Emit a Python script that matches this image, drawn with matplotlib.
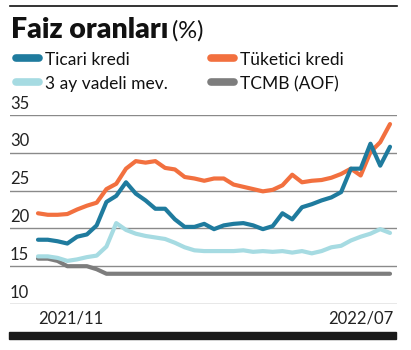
import matplotlib
matplotlib.use("Agg")
import matplotlib.pyplot as plt
from matplotlib.lines import Line2D
import numpy as np

plt.rcParams['font.family'] = ['Lato', 'DejaVu Sans']

# Weekly rates (%), Oct 2021 - Jul 2022
ticari = [18.5, 18.5, 18.3, 18.0, 18.9, 19.2, 20.4, 23.5, 24.3, 26.1, 24.6, 23.7,
          22.6, 22.6, 21.2, 20.2, 20.2, 20.6, 19.9, 20.4, 20.6, 20.7, 20.4, 19.9,
          20.3, 22.0, 21.2, 22.8, 23.2, 23.7, 24.1, 24.8, 27.9, 27.9, 31.2, 28.3, 30.8]
tuketici = [22.0, 21.8, 21.8, 21.9, 22.5, 23.0, 23.4, 25.2, 25.9, 27.9, 28.9, 28.7,
            28.9, 28.0, 27.8, 26.8, 26.6, 26.3, 26.6, 26.6, 25.8, 25.5, 25.2, 24.9,
            25.1, 25.7, 27.1, 26.1, 26.3, 26.4, 26.7, 27.2, 27.9, 27.0, 30.1, 31.4, 33.8]
mevduat = [16.3, 16.3, 16.1, 15.7, 15.9, 16.2, 16.4, 17.6, 20.7, 19.8, 19.3, 19.0,
           18.8, 18.6, 18.1, 17.5, 17.1, 17.0, 17.0, 17.0, 17.0, 17.1, 16.9, 17.0,
           16.9, 17.0, 16.8, 17.0, 16.7, 17.0, 17.5, 17.7, 18.4, 18.9, 19.3, 19.9, 19.4]
tcmb = [16.0, 16.0, 15.7, 15.0, 15.0, 15.0, 14.6, 14.0, 14.0, 14.0, 14.0, 14.0,
        14.0, 14.0, 14.0, 14.0, 14.0, 14.0, 14.0, 14.0, 14.0, 14.0, 14.0, 14.0,
        14.0, 14.0, 14.0, 14.0, 14.0, 14.0, 14.0, 14.0, 14.0, 14.0, 14.0, 14.0, 14.0]

series_names = ["Ticari kredi", "Tüketici kredi", "3 ay vadeli mev.", "TCMB (AOF)"]
colors = ["#1f7b9e", "#f2703f", "#a6dbe2", "#7d7d7d"]
y_ticks = [10, 15, 20, 25, 30, 35]
x_labels = ["2021/11", "2022/07"]

W, H = 411, 350
fig = plt.figure(figsize=(W / 100, H / 100), dpi=100)
fig.patch.set_facecolor("white")

def fx(px):
    return px / W

def fy(py):
    return 1 - py / H

# plot area: x 10..397 px, y 304 (10%) .. 115 (35%)
ax = fig.add_axes([fx(10), fy(304), fx(397) - fx(10), fy(115) - fy(304)])
n = len(ticari)
step = (390 - 38) / (n - 1)
ax.set_xlim(-(38 - 10) / step, (n - 1) + (397 - 390) / step)
ax.set_ylim(10, 35)
ax.axis("off")

for t in y_ticks:
    ax.axhline(t, color="#8a8a8a", lw=1.0, zorder=1)
    ax.text(0, t + 0.45, str(t), transform=ax.get_yaxis_transform(),
            ha="left", va="bottom", fontsize=12, color="#222222")

x = np.arange(n)
lw = 3.0
ax.plot(x, tcmb, color=colors[3], lw=lw, solid_capstyle="round", zorder=2, clip_on=False)
ax.plot(x, mevduat, color=colors[2], lw=lw, solid_capstyle="round", zorder=3, clip_on=False)
ax.plot(x, tuketici, color=colors[1], lw=lw, solid_capstyle="round", zorder=4, clip_on=False)
ax.plot(x, ticari, color=colors[0], lw=lw, solid_capstyle="round", zorder=5, clip_on=False)

# x labels
fig.text(fx(38), fy(324), x_labels[0], ha="left", va="baseline", fontsize=12, color="#222222")
fig.text(fx(393), fy(324), x_labels[1], ha="right", va="baseline", fontsize=12, color="#222222")

# title, with the unit set right after the bold part
title = fig.text(fx(11), fy(37.5), "Faiz oranları", ha="left", va="baseline",
                 fontsize=20.5, fontweight="heavy", color="#111111")
fig.canvas.draw()
bb = title.get_window_extent(renderer=fig.canvas.get_renderer())
fig.text(fx(bb.x1 + 4), fy(37.5), "(%)", ha="left", va="baseline", fontsize=17, color="#111111")

# legend
legend_pos = [(12, 58), (207, 58), (12, 82), (207, 82)]
for name, col, (px, py) in zip(series_names, colors, legend_pos):
    fig.add_artist(Line2D([fx(px + 3.5), fx(px + 26.5)], [fy(py), fy(py)],
                          color=col, lw=5.5, solid_capstyle="round"))
    fig.text(fx(px + 33), fy(py + 7), name, ha="left", va="baseline",
             fontsize=12.5, color="#111111")

# top rule and bottom bar
fig.add_artist(Line2D([fx(10), fx(397)], [fy(6), fy(6)], color="#111111", lw=1.2))
fig.add_artist(plt.Rectangle((fx(9), fy(339)), fx(396) - fx(9), fy(332) - fy(339),
                             color="#1a1a1a", transform=fig.transFigure))

fig.savefig("out.png", dpi=100)
